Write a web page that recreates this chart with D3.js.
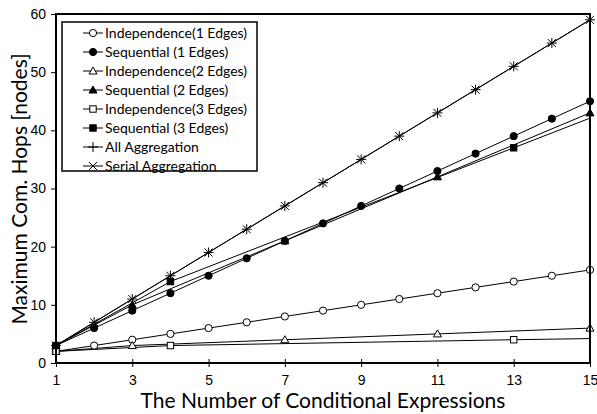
<!DOCTYPE html>
<html>
<head>
<meta charset="utf-8">
<script src="https://cdn.jsdelivr.net/npm/d3@7"></script>
<style>
  body { margin: 0; background: #fff; }
  svg { display: block; font-family: Lato, "Open Sans", sans-serif; }
  .tick-label { font-size: 14px; fill: #000; }
  .axis-title { font-size: 21px; fill: #000; }
  .legend-label { font-size: 14px; fill: #000; }
</style>
</head>
<body>
<script>
// x values
const xAll = [1, 2, 3, 4, 5, 6, 7, 8, 9, 10, 11, 12, 13, 14, 15];
const xTicks = [1, 3, 5, 7, 9, 11, 13, 15];
const yTicks = [0, 10, 20, 30, 40, 50, 60];

// series values
const ind1Y = [2, 3, 4, 5, 6, 7, 8, 9, 10, 11, 12, 13, 14, 15, 16];
const seq1Y = [3, 6, 9, 12, 15, 18, 21, 24, 27, 30, 33, 36, 39, 42, 45];
const ind2X = [1, 3, 7, 11, 15];
const ind2Y = [2, 3, 4, 5, 6];
const seq2X = [1, 3, 7, 11, 15];
const seq2Y = [3, 10, 21, 32, 43];
const ind3X = [1, 4, 13];
const ind3Y = [2, 3, 4];
const seq3X = [1, 4, 13];
const seq3Y = [3, 14, 37];
// where the 3-edge lines leave the frame at x = 15 (no marker there)
const ind3Edge = 4.2;
const seq3Edge = 42.1;
const allAggY = [3, 7, 11, 15, 19, 23, 27, 31, 35, 39, 43, 47, 51, 55, 59];
const serialAggY = [3, 7, 11, 15, 19, 23, 27, 31, 35, 39, 43, 47, 51, 55, 59];

const legendNames = [
  "Independence(1 Edges)",
  "Sequential (1 Edges)",
  "Independence(2 Edges)",
  "Sequential (2 Edges)",
  "Independence(3 Edges)",
  "Sequential (3 Edges)",
  "All Aggregation",
  "Serial Aggregation"
];

const width = 597, height = 414;
const margin = { left: 56, right: 7, top: 14, bottom: 51 };

const x = d3.scaleLinear().domain([1, 15]).range([margin.left, width - margin.right]);
const y = d3.scaleLinear().domain([0, 60]).range([height - margin.bottom, margin.top]);

const svg = d3.select("body").append("svg")
  .attr("width", width)
  .attr("height", height);

const pts = (xs, ys) => xs.map((v, i) => [v, ys[i]]);

const series = [
  { name: legendNames[0], marker: "circle", fill: "#fff", data: pts(xAll, ind1Y) },
  { name: legendNames[1], marker: "circle", fill: "#000", data: pts(xAll, seq1Y) },
  { name: legendNames[2], marker: "triangle", fill: "#fff", data: pts(ind2X, ind2Y) },
  { name: legendNames[3], marker: "triangle", fill: "#000", data: pts(seq2X, seq2Y) },
  { name: legendNames[4], marker: "square", fill: "#fff", data: pts(ind3X, ind3Y), edge: ind3Edge },
  { name: legendNames[5], marker: "square", fill: "#000", data: pts(seq3X, seq3Y), edge: seq3Edge },
  { name: legendNames[6], marker: "plus", fill: "none", data: pts(xAll, allAggY) },
  { name: legendNames[7], marker: "cross", fill: "none", data: pts(xAll, serialAggY) }
];

// marker shapes, centred at 0,0
function drawMarker(g, type, fill) {
  if (type === "circle") {
    g.append("circle").attr("r", 3.6).attr("fill", fill).attr("stroke", "#000").attr("stroke-width", 1);
  } else if (type === "triangle") {
    g.append("path").attr("d", "M0,-4L4,3L-4,3Z").attr("fill", fill).attr("stroke", "#000").attr("stroke-width", 1);
  } else if (type === "square") {
    g.append("rect").attr("x", -3.2).attr("y", -3.2).attr("width", 6.4).attr("height", 6.4)
      .attr("fill", fill).attr("stroke", "#000").attr("stroke-width", 1);
  } else if (type === "plus") {
    g.append("path").attr("d", "M-5,0H5M0,-5V5").attr("stroke", "#000").attr("stroke-width", 1);
  } else if (type === "cross") {
    g.append("path").attr("d", "M-4,-4L4,4M-4,4L4,-4").attr("stroke", "#000").attr("stroke-width", 1);
  }
}

const line = d3.line().x(d => x(d[0])).y(d => y(d[1]));

// lines
series.forEach(s => {
  const d = s.edge !== undefined ? s.data.concat([[15, s.edge]]) : s.data;
  svg.append("path")
    .attr("d", line(d))
    .attr("fill", "none")
    .attr("stroke", "#000")
    .attr("stroke-width", 1);
});

// markers
series.forEach(s => {
  svg.append("g").selectAll("g")
    .data(s.data)
    .join("g")
    .attr("transform", d => `translate(${x(d[0])},${y(d[1])})`)
    .each(function () { drawMarker(d3.select(this), s.marker, s.fill); });
});

// frame
svg.append("rect")
  .attr("x", margin.left)
  .attr("y", margin.top)
  .attr("width", width - margin.left - margin.right)
  .attr("height", height - margin.top - margin.bottom)
  .attr("fill", "none")
  .attr("stroke", "#000")
  .attr("stroke-width", 2);

// x axis
const xAxis = svg.append("g")
  .attr("transform", `translate(0,${height - margin.bottom})`)
  .call(d3.axisBottom(x).tickValues(xTicks).tickSize(4).tickSizeOuter(0));
xAxis.select(".domain").remove();
xAxis.selectAll("line").attr("stroke", "#000").attr("y1", -4).attr("y2", 4);
xAxis.selectAll("text").attr("class", "tick-label").attr("font-family", null).attr("font-size", null)
  .attr("y", 12);

// y axis
const yAxis = svg.append("g")
  .attr("transform", `translate(${margin.left},0)`)
  .call(d3.axisLeft(y).tickValues(yTicks).tickSize(5).tickSizeOuter(0));
yAxis.select(".domain").remove();
yAxis.selectAll("line").attr("stroke", "#000");
yAxis.selectAll("text").attr("class", "tick-label").attr("font-family", null).attr("font-size", null)
  .attr("x", -10);

// axis titles
svg.append("text")
  .attr("class", "axis-title")
  .attr("x", 323)
  .attr("y", 408)
  .attr("text-anchor", "middle")
  .text("The Number of Conditional Expressions");

svg.append("text")
  .attr("class", "axis-title")
  .attr("transform", "translate(20,189) rotate(-90)")
  .attr("text-anchor", "middle")
  .attr("dy", "0.35em")
  .text("Maximum Com. Hops [nodes]");

// legend
const legend = svg.append("g").attr("transform", "translate(62,22)");
legend.append("rect")
  .attr("width", 195)
  .attr("height", 149)
  .attr("fill", "#fff")
  .attr("stroke", "#000")
  .attr("stroke-width", 1.5);

const rows = legend.selectAll(".row")
  .data(series)
  .join("g")
  .attr("class", "row")
  .attr("transform", (d, i) => `translate(0,${11 + i * 19})`);

rows.append("line")
  .attr("x1", 21).attr("x2", 41)
  .attr("stroke", "#000").attr("stroke-width", 1);

rows.each(function (s) {
  const g = d3.select(this).append("g").attr("transform", "translate(31,0)");
  drawMarker(g, s.marker, s.fill);
});

rows.append("text")
  .attr("class", "legend-label")
  .attr("x", 43)
  .attr("dy", "0.35em")
  .text(d => d.name);
</script>
</body>
</html>
